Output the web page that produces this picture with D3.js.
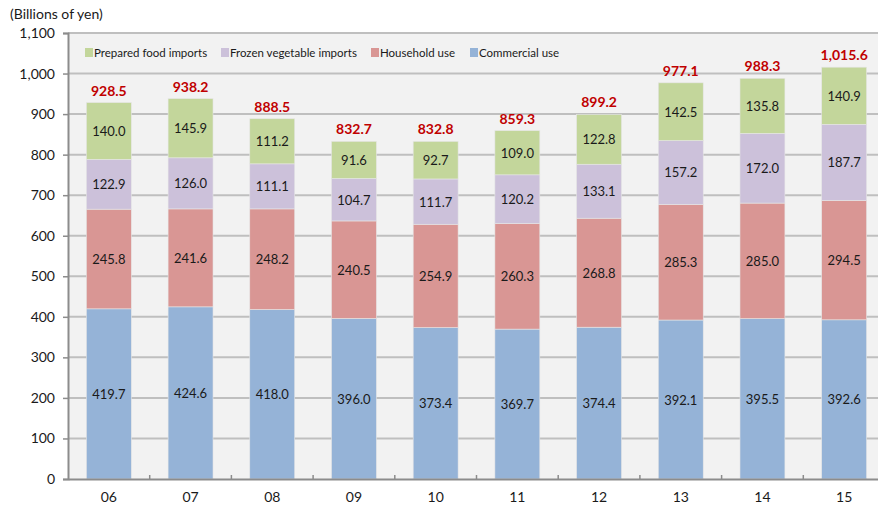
<!DOCTYPE html>
<html>
<head>
<meta charset="utf-8">
<script src="https://cdn.jsdelivr.net/npm/d3@7"></script>
<style>
  body { margin: 0; background: #fff; }
  svg { display: block; font-family: Lato, "Open Sans", sans-serif; }
</style>
</head>
<body>
<div id="chart"></div>
<script>
// data
var years = ["06", "07", "08", "09", "10", "11", "12", "13", "14", "15"];
var commercial = [419.7, 424.6, 418.0, 396.0, 373.4, 369.7, 374.4, 392.1, 395.5, 392.6];
var household  = [245.8, 241.6, 248.2, 240.5, 254.9, 260.3, 268.8, 285.3, 285.0, 294.5];
var frozen     = [122.9, 126.0, 111.1, 104.7, 111.7, 120.2, 133.1, 157.2, 172.0, 187.7];
var prepared   = [140.0, 145.9, 111.2, 91.6, 92.7, 109.0, 122.8, 142.5, 135.8, 140.9];
var totals     = ["928.5", "938.2", "888.5", "832.7", "832.8", "859.3", "899.2", "977.1", "988.3", "1,015.6"];
var yTicks = [0, 100, 200, 300, 400, 500, 600, 700, 800, 900, 1000, 1100];

var svgWidth = 878, svgHeight = 508;
var plotL = 68, plotR = 885, plotT = 33, plotB = 479;

var series = [
  { name: "Commercial use", values: commercial, color: "#95b3d7" },
  { name: "Household use", values: household, color: "#d99694" },
  { name: "Frozen vegetable imports", values: frozen, color: "#ccc1da" },
  { name: "Prepared food imports", values: prepared, color: "#c3d69b" }
];

var svg = d3.select("#chart").append("svg")
    .attr("width", svgWidth)
    .attr("height", svgHeight);

var x = d3.scaleBand().domain(years).range([plotL, plotR]).padding(0);
var y = d3.scaleLinear().domain([0, 1100]).range([plotB, plotT]);
var barW = x.bandwidth() * 0.55;

// plot background
svg.append("rect")
    .attr("x", plotL).attr("y", plotT)
    .attr("width", plotR - plotL).attr("height", plotB - plotT)
    .attr("fill", "#f2f2f2");

// gridlines
svg.append("g").selectAll("line")
    .data(yTicks.slice(1))
    .enter().append("line")
    .attr("x1", plotL).attr("x2", plotR)
    .attr("y1", d => y(d)).attr("y2", d => y(d))
    .attr("stroke", "#bfbfbf")
    .attr("stroke-width", 2);

// stacked bars
var rows = years.map(function (yr, i) {
  var r = { year: yr };
  series.forEach(s => r[s.name] = s.values[i]);
  return r;
});
var stack = d3.stack().keys(series.map(s => s.name))(rows);

stack.forEach(function (layer, k) {
  var g = svg.append("g");
  g.selectAll("rect")
      .data(layer)
      .enter().append("rect")
      .attr("x", d => x(d.data.year) + (x.bandwidth() - barW) / 2)
      .attr("y", d => y(d[1]))
      .attr("width", barW)
      .attr("height", d => y(d[0]) - y(d[1]))
      .attr("fill", series[k].color)
      .attr("stroke", "#e6e6e6")
      .attr("stroke-width", 0.6);
  g.selectAll("text")
      .data(layer)
      .enter().append("text")
      .attr("x", d => x(d.data.year) + x.bandwidth() / 2)
      .attr("y", d => (y(d[0]) + y(d[1])) / 2 + 5)
      .attr("text-anchor", "middle")
      .attr("font-size", "13px")
      .attr("fill", "#1a1a1a")
      .text(d => (d[1] - d[0]).toFixed(1));
});

// totals
var topLayer = stack[stack.length - 1];
svg.append("g").selectAll("text")
    .data(topLayer)
    .enter().append("text")
    .attr("x", d => x(d.data.year) + x.bandwidth() / 2)
    .attr("y", d => y(d[1]) - 7)
    .attr("text-anchor", "middle")
    .attr("font-size", "14px")
    .attr("font-weight", "bold")
    .attr("fill", "#c00000")
    .text((d, i) => totals[i]);

// y axis
var yAxis = d3.axisLeft(y)
    .tickValues(yTicks)
    .tickSize(5)
    .tickPadding(8)
    .tickFormat(d3.format(","));
var ya = svg.append("g")
    .attr("transform", "translate(" + plotL + ",0)")
    .call(yAxis);
ya.select(".domain").attr("stroke", "#8c8c8c").attr("stroke-width", 2);
ya.selectAll(".tick line").attr("stroke", "#8c8c8c").attr("stroke-width", 1.5);
ya.selectAll("text").attr("font-size", "14px").attr("fill", "#1a1a1a")
    .style("font-family", "Lato, sans-serif");

// x axis
var xa = svg.append("g")
    .attr("transform", "translate(0," + plotB + ")")
    .call(d3.axisBottom(x).tickSize(0).tickPadding(13));
xa.select(".domain").attr("stroke", "#8c8c8c").attr("stroke-width", 2);
xa.selectAll("text").attr("font-size", "14px").attr("fill", "#1a1a1a")
    .style("font-family", "Lato, sans-serif");

// small tick marks between categories
svg.append("g").selectAll("line")
    .data(years.slice(1))
    .enter().append("line")
    .attr("x1", d => x(d)).attr("x2", d => x(d))
    .attr("y1", plotB - 4).attr("y2", plotB)
    .attr("stroke", "#8c8c8c")
    .attr("stroke-width", 1.5);

// unit label
svg.append("text")
    .attr("x", 10).attr("y", 19)
    .attr("font-size", "14px")
    .attr("fill", "#1a1a1a")
    .text("(Billions of yen)");

// legend
var legendItems = series.slice().reverse();
var legendX = [85, 221, 371, 470];
var legend = svg.append("g").selectAll("g")
    .data(legendItems)
    .enter().append("g")
    .attr("transform", (d, i) => "translate(" + legendX[i] + ",48)");
legend.append("rect")
    .attr("width", 8).attr("height", 9)
    .attr("fill", d => d.color);
legend.append("text")
    .attr("x", 9).attr("y", 9)
    .attr("font-size", "11.5px")
    .attr("fill", "#1a1a1a")
    .text(d => d.name);
</script>
</body>
</html>
